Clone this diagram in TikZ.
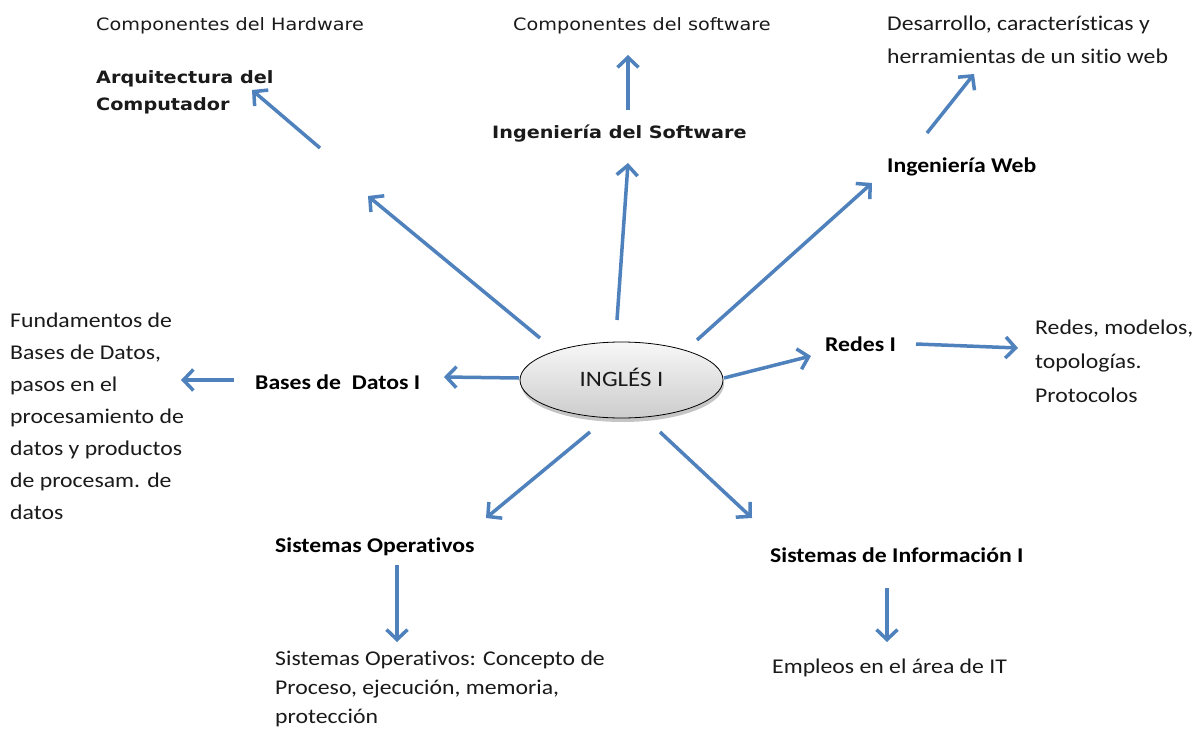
\documentclass[tikz,border=0pt]{standalone}
\usepackage{fontspec}
\usetikzlibrary{arrows.meta,shapes.geometric,shadows}
\newfontfamily\verd[FakeStretch=1.13]{DejaVu Sans}
\newfontfamily\cali[FakeStretch=1.13,Ligatures=NoCommon]{Carlito}
\definecolor{arrowblue}{HTML}{4F81BD}
\definecolor{txt}{HTML}{1A1A1A}
\begin{document}
\begin{tikzpicture}[x=1pt,y=-1pt,
  vtxt/.style={anchor=base west,inner sep=0pt,align=left,text=txt,font=\verd\fontsize{17}{27}\selectfont},
  vbold/.style={vtxt,font=\verd\bfseries\fontsize{17}{27}\selectfont},
  ctxt/.style={anchor=base west,inner sep=0pt,align=left,text=txt,font=\cali\fontsize{21}{32}\selectfont},
  cbold/.style={ctxt,text=black,font=\cali\bfseries\fontsize{21}{32}\selectfont},
  conn/.style={draw=arrowblue,line width=3.5pt,-{Straight Barb[length=10pt,width=21pt]}},
  hub/.style={ellipse,draw=black,line width=0.8pt,minimum width=203pt,minimum height=76pt,inner sep=0pt,
    top color=gray!6,bottom color=gray!40,drop shadow={shadow xshift=1pt,shadow yshift=-4pt,opacity=0.45},
    font=\cali\fontsize{22}{26}\selectfont,text=txt}
]
\useasboundingbox[fill=white] (0,0) rectangle (1199,731);

% central node
\node[hub] (ing) at (621.5,380) {\raisebox{5pt}{INGLÉS I}};

% texts (multi-line nodes: base anchor = baseline of the last line)
\node[vtxt] (hwc) at (96,30) {Componentes del Hardware};
\node[vbold] (arq) at (96,110) {Arquitectura del\\Computador};
\node[vtxt] (swc) at (513,30) {Componentes del software};
\node[vbold] (sw) at (492,138) {Ingeniería del Software};
\node[ctxt,font=\cali\fontsize{21}{33}\selectfont] (webc) at (887,63) {Desarrollo, características y\\herramientas de un sitio web};
\node[cbold] (web) at (887,172) {Ingeniería Web};
\node[cbold] (red) at (825,351) {Redes I};
\node[ctxt,font=\cali\fontsize{21}{34}\selectfont] (redc) at (1035,402) {Redes, modelos,\\topologías.\\Protocolos};
\node[ctxt] (bdc) at (10,519) {Fundamentos de\\Bases de Datos,\\pasos en el\\procesamiento de\\datos y productos\\de procesam. de\\datos};
\node[cbold] (bd) at (255,389) {Bases de~ Datos I};
\node[cbold] (so) at (275,552) {Sistemas Operativos};
\node[ctxt,font=\cali\fontsize{21}{29}\selectfont] (soc) at (275,723) {Sistemas Operativos: Concepto de\\Proceso, ejecución, memoria,\\protección};
\node[cbold] (si) at (770,562) {Sistemas de Información I};
\node[ctxt] (sic) at (772,673) {Empleos en el área de IT};

% connector end points
\coordinate (arqS) at (320,148);  \coordinate (arqE) at (252,90);
\coordinate (ingArq) at (540,338); \coordinate (arqIn) at (368,196);
\coordinate (ingSw) at (617,320);  \coordinate (swIn) at (628,163);
\coordinate (swS) at (628,110);    \coordinate (swE) at (628,55);
\coordinate (ingWeb) at (697,340); \coordinate (webIn) at (872,183);
\coordinate (webS) at (927,133);   \coordinate (webE) at (974,74);
\coordinate (ingRed) at (724,378); \coordinate (redIn) at (811,356);
\coordinate (redS) at (916,344);   \coordinate (redE) at (1018,348);
\coordinate (ingBd) at (519,378);  \coordinate (bdIn) at (444,377);
\coordinate (bdS) at (234,380);    \coordinate (bdE) at (181,380);
\coordinate (ingSo) at (590,432);  \coordinate (soIn) at (486,518);
\coordinate (soS) at (397,565);    \coordinate (soE) at (397,642);
\coordinate (ingSi) at (660,432);  \coordinate (siIn) at (752,518);
\coordinate (siS) at (887,588);    \coordinate (siE) at (887,642);

% connectors
\draw[conn] (arqS) -- (arqE);
\draw[conn] (ingArq) -- (arqIn);
\draw[conn] (ingSw) -- (swIn);
\draw[conn] (swS) -- (swE);
\draw[conn] (ingWeb) -- (webIn);
\draw[conn] (webS) -- (webE);
\draw[conn] (ingRed) -- (redIn);
\draw[conn] (redS) -- (redE);
\draw[conn] (ingBd) -- (bdIn);
\draw[conn] (bdS) -- (bdE);
\draw[conn] (ingSo) -- (soIn);
\draw[conn] (soS) -- (soE);
\draw[conn] (ingSi) -- (siIn);
\draw[conn] (siS) -- (siE);
\end{tikzpicture}
\end{document}
